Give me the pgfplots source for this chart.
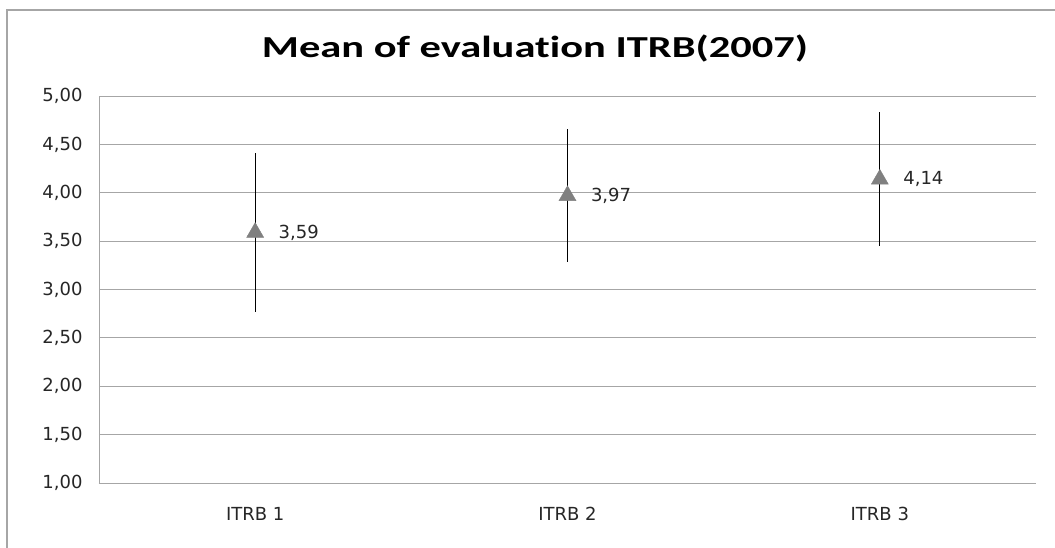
\documentclass[border=0pt]{standalone}
\usepackage{fontspec}
\setmainfont{DejaVu Sans}
\newfontfamily\titlefont[Ligatures=NoCommon]{Carlito}
\usepackage{pgfplots}
\pgfplotsset{compat=1.18}
\definecolor{gridgray}{HTML}{A6A6A6}
\definecolor{markgray}{HTML}{808080}
\definecolor{txt}{HTML}{262626}
\begin{document}
\begin{tikzpicture}[x=1pt,y=1pt]
\path[use as bounding box] (0,0) rectangle (1055,547);
\draw[gridgray,line width=1.2pt] (7,-5) -- (7,537) -- (1060,537);
\node[text=black, inner sep=0pt] at (535,499) {\resizebox{546pt}{\height}{\titlefont\fontsize{30.5}{36}\selectfont\bfseries Mean of evaluation ITRB(2007)}};
\begin{axis}[
  at={(99pt,64pt)}, anchor=south west,
  scale only axis, width=937pt, height=387pt,
  xmin=-0.5, xmax=2.5, ymin=1, ymax=5,
  xtick={0,1,2}, xticklabels={ITRB 1,ITRB 2,ITRB 3},
  ytick={1,1.5,...,5},
  axis lines=left, axis line style={gridgray,-},
  major tick length=0pt,
  ymajorgrids, grid style={gridgray,line width=0.8pt},
  /pgf/number format/assume math mode=true,
  /pgf/number format/.cd, use comma, fixed, fixed zerofill, precision=2, /pgfplots/.cd,
  ticklabel style={font=\fontsize{18}{21}\selectfont, text=txt},
  yticklabel style={xshift=-13pt},
  xticklabel style={yshift=-21pt},
  clip=false,
]
\addplot+[only marks, mark=triangle*, mark size=9.8pt,
  mark options={fill=markgray, draw=markgray},
  error bars/.cd, y dir=both, y explicit, error mark=none,
  error bar style={black, line width=0.9pt}]
  coordinates {(0,3.59) +- (0,0.82) (1,3.97) +- (0,0.69) (2,4.14) +- (0,0.69)};
\addplot[only marks, mark=none, nodes near coords, point meta=y,
  nodes near coords style={anchor=west, xshift=20pt, font=\fontsize{18}{21}\selectfont, text=txt}]
  coordinates {(0,3.59) (1,3.97) (2,4.14)};
\end{axis}
\end{tikzpicture}
\end{document}
